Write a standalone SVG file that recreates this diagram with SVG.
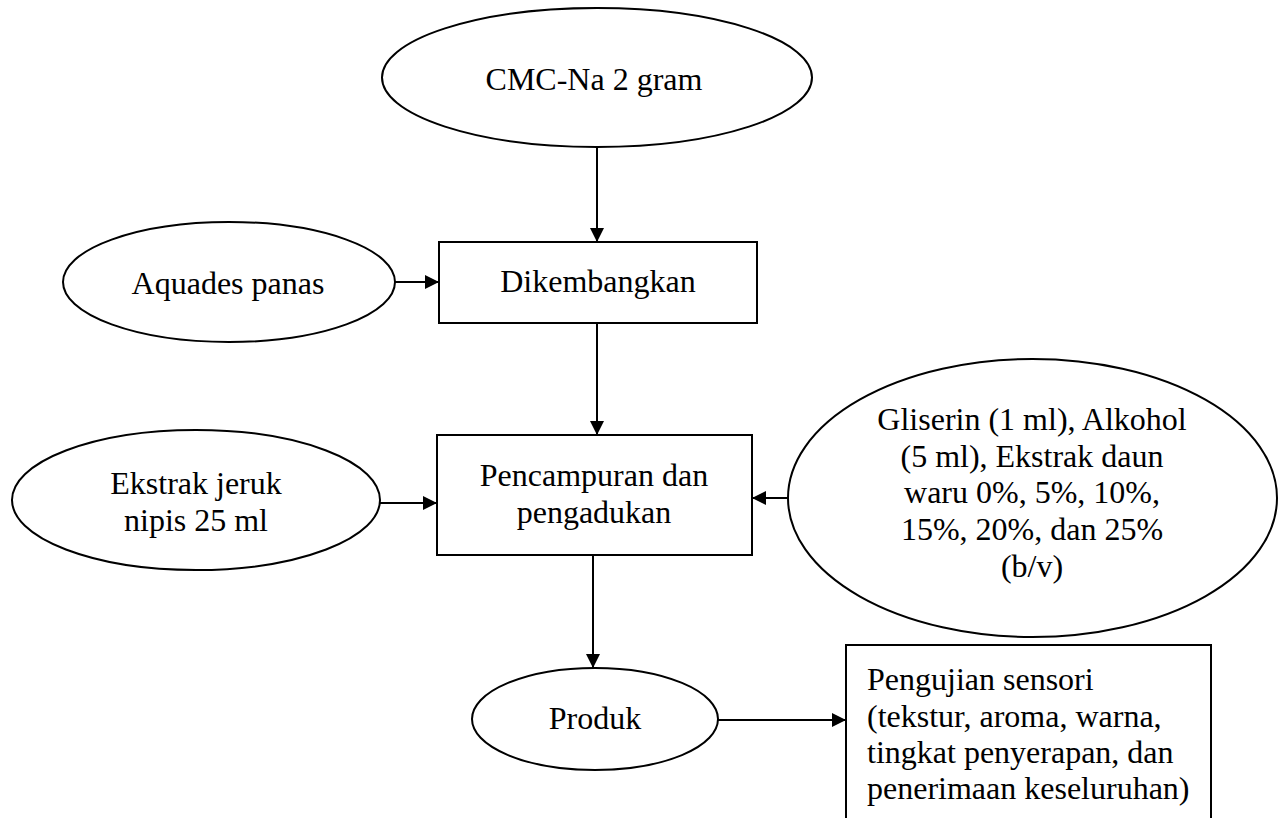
<svg xmlns="http://www.w3.org/2000/svg" width="1285" height="818" viewBox="0 0 1285 818">
  <style>
    .shape { fill: #ffffff; stroke: #000000; stroke-width: 2; }
    .link { fill: none; stroke: #000000; stroke-width: 2; marker-end: url(#arrow); }
    text { font-family: "Liberation Serif", "Times New Roman", serif; font-size: 32px; fill: #000000; }
    .c { text-anchor: middle; }
  </style>
  <defs>
    <marker id="arrow" markerUnits="userSpaceOnUse" markerWidth="15" markerHeight="15" refX="14" refY="7" orient="auto">
      <path d="M0,0 L14,7 L0,14 z" fill="#000000"/>
    </marker>
  </defs>
  <rect width="1285" height="818" fill="#ffffff"/>

  <g id="connectors">
    <line class="link" x1="597" y1="147" x2="597" y2="242"/>
    <line class="link" x1="395" y1="282" x2="439" y2="282"/>
    <line class="link" x1="597" y1="323" x2="597" y2="435"/>
    <line class="link" x1="380" y1="503" x2="437" y2="503"/>
    <line class="link" x1="788" y1="498" x2="752" y2="498"/>
    <line class="link" x1="593" y1="555" x2="593" y2="668"/>
    <line class="link" x1="718" y1="720" x2="846" y2="720"/>
  </g>

  <g id="cmc">
    <ellipse class="shape" cx="597" cy="77.5" rx="215" ry="69.5"/>
    <text class="c" x="594" y="90">CMC-Na 2 gram</text>
  </g>

  <g id="aquades">
    <ellipse class="shape" cx="229" cy="282" rx="166" ry="60"/>
    <text class="c" x="228" y="294">Aquades panas</text>
  </g>

  <g id="dikembangkan">
    <rect class="shape" x="439" y="242" width="318" height="81"/>
    <text class="c" x="598" y="292">Dikembangkan</text>
  </g>

  <g id="ekstrak-jeruk">
    <ellipse class="shape" cx="196" cy="500" rx="184" ry="70"/>
    <text class="c" x="196" y="494">Ekstrak jeruk</text>
    <text class="c" x="196" y="531">nipis 25 ml</text>
  </g>

  <g id="pencampuran">
    <rect class="shape" x="437" y="435" width="315" height="120"/>
    <text class="c" x="594" y="486">Pencampuran dan</text>
    <text class="c" x="594" y="523">pengadukan</text>
  </g>

  <g id="bahan">
    <ellipse class="shape" cx="1032.5" cy="498" rx="244.5" ry="139"/>
    <text class="c" x="1032" y="430">Gliserin (1 ml), Alkohol</text>
    <text class="c" x="1032" y="467">(5 ml), Ekstrak daun</text>
    <text class="c" x="1032" y="503">waru 0%, 5%, 10%,</text>
    <text class="c" x="1032" y="540">15%, 20%, dan 25%</text>
    <text class="c" x="1032" y="577">(b/v)</text>
  </g>

  <g id="produk">
    <ellipse class="shape" cx="595" cy="719" rx="123" ry="51"/>
    <text class="c" x="595" y="729">Produk</text>
  </g>

  <g id="pengujian">
    <rect class="shape" x="846" y="645" width="365" height="190"/>
    <text x="867" y="690">Pengujian sensori</text>
    <text x="867" y="727">(tekstur, aroma, warna,</text>
    <text x="867" y="763">tingkat penyerapan, dan</text>
    <text x="867" y="799">penerimaan keseluruhan)</text>
  </g>
</svg>
